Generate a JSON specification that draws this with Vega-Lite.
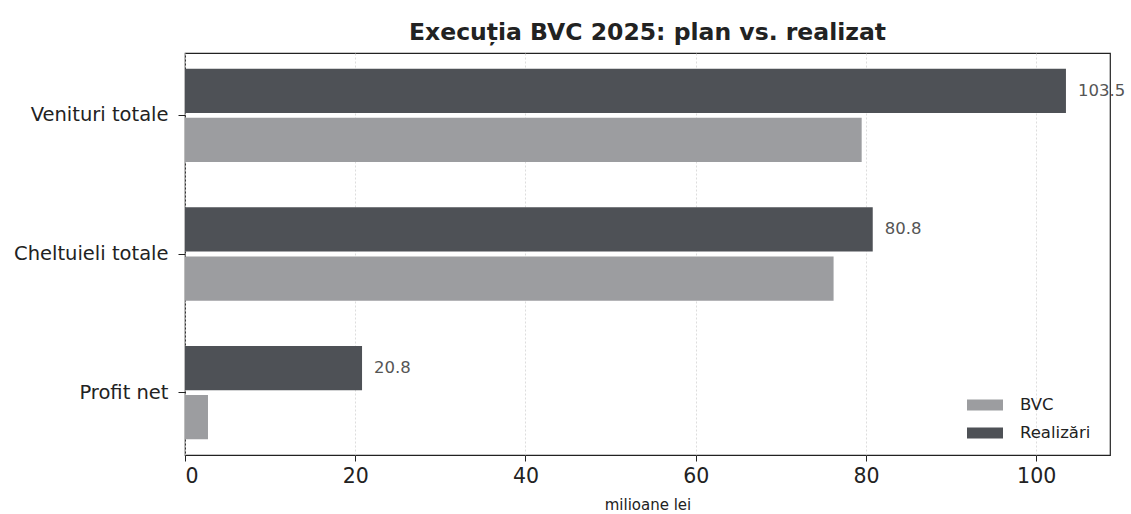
{
  "$schema": "https://vega.github.io/schema/vega-lite/v6.json",
  "width": 925,
  "height": 402,
  "autosize": {"type": "none"},
  "padding": {"left": 185, "top": 53, "right": 21, "bottom": 59},
  "background": "white",
  "title": {
    "text": "Execuția BVC 2025: plan vs. realizat",
    "font": "DejaVu Sans",
    "fontSize": 23.5,
    "fontWeight": "bold",
    "color": "#222222",
    "offset": 9,
    "anchor": "middle"
  },
  "config": {
    "view": {"stroke": "#222222", "strokeWidth": 1.2},
    "font": "DejaVu Sans"
  },
  "data": {
    "values": [
      {"categorie": "Venituri totale", "serie": "Realizări", "valoare": 103.5},
      {"categorie": "Venituri totale", "serie": "BVC", "valoare": 79.5},
      {"categorie": "Cheltuieli totale", "serie": "Realizări", "valoare": 80.8},
      {"categorie": "Cheltuieli totale", "serie": "BVC", "valoare": 76.2},
      {"categorie": "Profit net", "serie": "Realizări", "valoare": 20.8},
      {"categorie": "Profit net", "serie": "BVC", "valoare": 2.7}
    ]
  },
  "encoding": {
    "y": {
      "field": "categorie",
      "type": "nominal",
      "sort": ["Venituri totale", "Cheltuieli totale", "Profit net"],
      "scale": {"paddingInner": 0.1, "paddingOuter": 0},
      "axis": {
        "title": null,
        "labelFont": "DejaVu Sans",
        "labelFontSize": 19.5,
        "labelColor": "#222222",
        "tickColor": "#222222",
        "tickSize": 7,
        "labelPadding": 10,
        "domain": false,
        "grid": false
      }
    },
    "yOffset": {
      "field": "serie",
      "type": "nominal",
      "sort": ["Realizări", "BVC"],
      "scale": {"paddingInner": 0.1, "paddingOuter": 0.32}
    },
    "x": {
      "field": "valoare",
      "type": "quantitative",
      "scale": {"domain": [0, 108.675], "nice": false, "zero": true},
      "axis": {
        "title": "milioane lei",
        "titleFont": "DejaVu Sans",
        "titleFontSize": 15,
        "titleFontWeight": "normal",
        "titleColor": "#222222",
        "titlePadding": 11,
        "values": [0, 20, 40, 60, 80, 100],
        "labelFont": "DejaVu Sans",
        "labelFontSize": 20.5,
        "labelColor": "#222222",
        "tickColor": "#222222",
        "tickSize": 6,
        "labelPadding": 5,
        "domain": false,
        "grid": true,
        "gridColor": "#d4d4d4",
        "gridDash": [2, 2],
        "gridWidth": 0.8
      }
    }
  },
  "layer": [
    {
      "mark": {"type": "bar", "stroke": null},
      "encoding": {
        "color": {
          "field": "serie",
          "type": "nominal",
          "scale": {"domain": ["BVC", "Realizări"], "range": ["#9c9da0", "#4e5156"]},
          "legend": {
            "title": null,
            "orient": "none",
            "legendX": 791,
            "legendY": 343,
            "labelFont": "DejaVu Sans",
            "labelFontSize": 16.5,
            "labelColor": "#222222",
            "symbolType": "M-2,-0.6L2,-0.6L2,0.6L-2,0.6Z",
            "symbolSize": 324,
            "symbolStrokeWidth": 0,
            "rowPadding": 10,
            "labelOffset": 26
          }
        }
      }
    },
    {
      "transform": [{"filter": "datum.serie === 'Realizări'"}],
      "mark": {
        "type": "text",
        "align": "left",
        "baseline": "middle",
        "dx": 12,
        "font": "DejaVu Sans",
        "fontSize": 16.5,
        "color": "#555555"
      },
      "encoding": {
        "text": {"field": "valoare", "type": "quantitative", "format": ".1f"}
      }
    }
  ]
}
